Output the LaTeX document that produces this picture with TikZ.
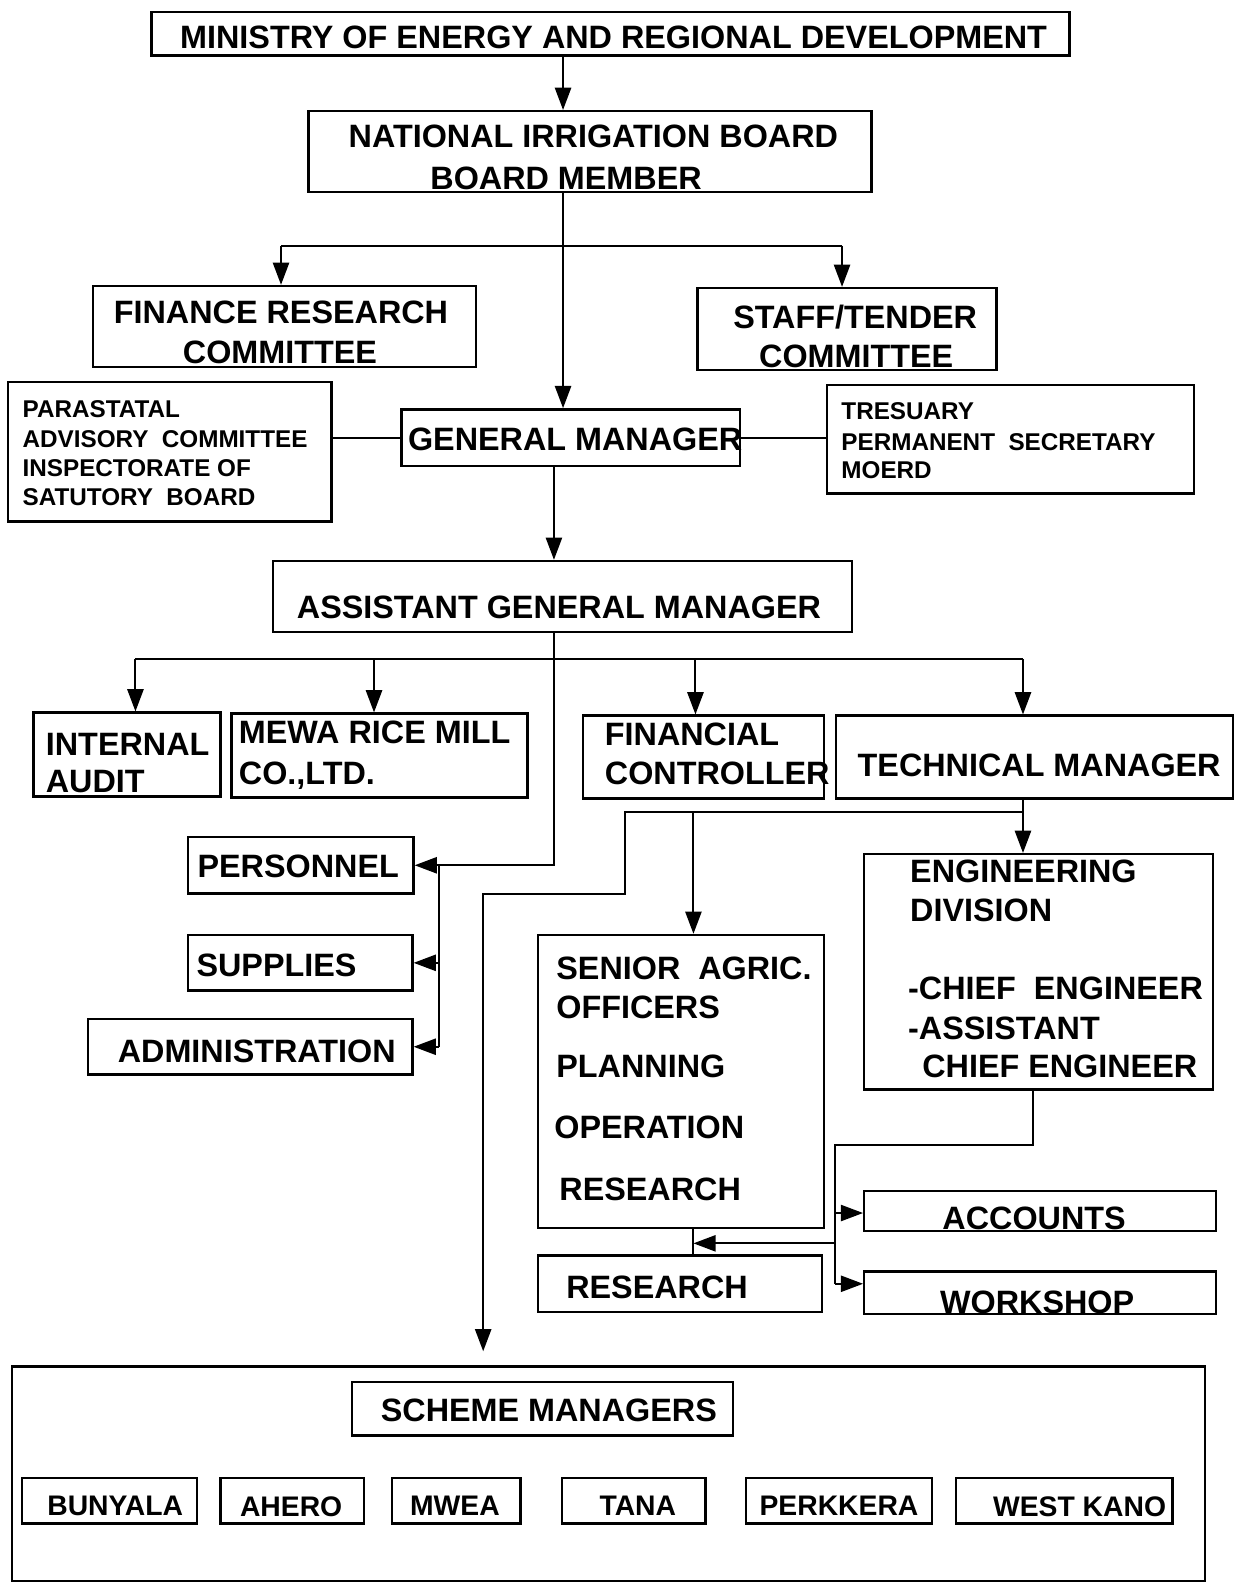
\documentclass[tikz,border=0pt]{standalone}
\usepackage{fontspec}
\setmainfont{Liberation Sans}
\usetikzlibrary{arrows.meta}
\tikzset{
 box/.style={draw, line width=1.2pt, rectangle, inner sep=0pt},
 big/.style={font=\fontsize{16}{19}\selectfont\bfseries, inner sep=0pt, text depth=0pt},
 mid/.style={font=\fontsize{14}{17}\selectfont\bfseries, inner sep=0pt, text depth=0pt},
 small/.style={font=\fontsize{12}{14}\selectfont\bfseries, inner sep=0pt, text depth=0pt},
 ln/.style={line width=1pt},
 arr/.style={line width=1pt, -{Triangle[width=8pt,length=11pt]}},
}
\newcommand\bx[5]{%
 \pgfmathsetmacro\bw{(#4-#2)*0.5}\pgfmathsetmacro\bh{(#5-#3)*0.5}%
 \node[box, minimum width=\bw pt, minimum height=\bh pt] (#1) at ({(#2+#4)/2},{(#3+#5)/2}) {};}
\begin{document}
\begin{tikzpicture}[x=0.5pt,y=-0.5pt]
\useasboundingbox (0,0) rectangle (1227,1568);
% boxes
\bx{min}{150}{12}{1058}{55}
\bx{nib}{305}{110}{862}{190}
\bx{fin}{92}{283}{471}{363}
\bx{stf}{690}{285}{986}{366}
\bx{par}{8}{378}{328}{516}
\bx{gm}{397}{405}{732}{461}
\bx{tre}{818}{381}{1181}{488}
\bx{agm}{270}{555}{843}{625}
\bx{ia}{33}{705}{218}{788}
\bx{mew}{229}{706}{522}{789}
\bx{fc}{577}{708}{815}{790}
\bx{tm}{827}{708}{1220}{790}
\bx{per}{186}{828}{409}{884}
\bx{sup}{186}{925}{408}{980}
\bx{adm}{87}{1008}{408}{1063}
\bx{sen}{532}{925}{815}{1215}
\bx{eng}{855}{845}{1200}{1078}
\bx{res}{532}{1242}{813}{1298}
\bx{acc}{855}{1178}{1203}{1218}
\bx{wk}{855}{1258}{1203}{1300}
\bx{sch}{12}{1352}{1192}{1564}
\bx{sm}{348}{1367}{725}{1420}
\bx{s1}{22}{1462}{195}{1507}
\bx{s2}{218}{1462}{360}{1507}
\bx{s3}{388}{1462}{515}{1507}
\bx{s4}{556}{1462}{698}{1507}
\bx{s5}{738}{1462}{922}{1507}
\bx{s6}{946}{1462}{1160}{1507}
% texts
\node[big] (t1) at (607,37) {MINISTRY OF ENERGY AND REGIONAL DEVELOPMENT};
\node[big] (t2) at (587,135) {NATIONAL IRRIGATION BOARD};
\node[big] (t3) at (560,176) {BOARD MEMBER};
\node[big] (t4) at (278,309) {FINANCE RESEARCH};
\node[big] (t5) at (277,348) {COMMITTEE};
\node[big] (t6) at (846,313) {STAFF/TENDER};
\node[big] (t7) at (847,352) {COMMITTEE};
\node[small, anchor=west] (t8) at (22,405) {PARASTATAL};
\node[small, anchor=west] (t9) at (22,434) {ADVISORY\ \ COMMITTEE};
\node[small, anchor=west] (t10) at (22,463) {INSPECTORATE OF};
\node[small, anchor=west] (t11) at (22,492) {SATUTORY\ \ BOARD};
\node[big] (t12) at (569,434) {GENERAL MANAGER};
\node[small, anchor=west] (t13) at (832,407) {TRESUARY};
\node[small, anchor=west] (t14) at (832,437) {PERMANENT\ \ SECRETARY};
\node[small, anchor=west] (t15) at (832,465) {MOERD};
\node[big] (t16) at (553,601) {ASSISTANT GENERAL MANAGER};
\node[big, anchor=west] (t17) at (45,736) {INTERNAL};
\node[big, anchor=west] (t18) at (45,773) {AUDIT};
\node[big, anchor=west] (t19) at (236,724) {MEWA RICE MILL};
\node[big, anchor=west] (t20) at (236,765) {CO.,LTD.};
\node[big, anchor=west] (t21) at (598,726) {FINANCIAL};
\node[big, anchor=west] (t22) at (598,765) {CONTROLLER};
\node[big] (t23) at (1028,757) {TECHNICAL MANAGER};
\node[big] (t24) at (295,857) {PERSONNEL};
\node[big, anchor=west] (t25) at (194,955) {SUPPLIES};
\node[big] (t26) at (254,1040) {ADMINISTRATION};
\node[big, anchor=west] (t27) at (550,958) {SENIOR\ \ AGRIC.};
\node[big, anchor=west] (t28) at (550,996) {OFFICERS};
\node[big, anchor=west] (t29) at (550,1055) {PLANNING};
\node[big, anchor=west] (t30) at (548,1115) {OPERATION};
\node[big, anchor=west] (t31) at (553,1176) {RESEARCH};
\node[big, anchor=west] (t32) at (900,862) {ENGINEERING};
\node[big, anchor=west] (t33) at (900,900) {DIVISION};
\node[big, anchor=west] (t34) at (898,978) {-CHIEF\ \ ENGINEER};
\node[big, anchor=west] (t35) at (898,1017) {-ASSISTANT};
\node[big, anchor=west] (t36) at (912,1055) {CHIEF ENGINEER};
\node[big] (t37) at (650,1273) {RESEARCH};
\node[big] (t38) at (1023,1205) {ACCOUNTS};
\node[big] (t39) at (1026,1288) {WORKSHOP};
\node[big] (t40) at (543,1395) {SCHEME MANAGERS};
\node[mid] (t41) at (114,1490) {BUNYALA};
\node[mid] (t42) at (288,1490) {AHERO};
\node[mid] (t43) at (450,1490) {MWEA};
\node[mid] (t44) at (631,1490) {TANA};
\node[mid] (t45) at (830,1490) {PERKKERA};
\node[mid] (t46) at (1068,1490) {WEST KANO};
% connector coordinates
\coordinate (xA) at (557,0);
\coordinate (hB) at (0,243);
\coordinate (xFi) at (278,0);
\coordinate (xSt) at (833,0);
\coordinate (xC) at (548,0);
\coordinate (hD) at (0,652);
\coordinate (xIA) at (134,0);
\coordinate (xMW) at (370,0);
\coordinate (xFC) at (688,0);
\coordinate (xTM) at (1012,0);
\coordinate (xE) at (434,0);
\coordinate (hG) at (0,803);
\coordinate (x620) at (618,0);
\coordinate (hH) at (0,884);
\coordinate (x478) at (478,0);
\coordinate (xSA) at (686,0);
\coordinate (xI) at (1022,0);
\coordinate (hJ) at (0,1133);
\coordinate (xK) at (826,0);
\coordinate (hAc) at (0,1200);
\coordinate (hWk) at (0,1270);
\coordinate (hL) at (0,1230);
% connectors
\draw[arr] (min.south -| xA) -- (nib.north -| xA);
\draw[arr] (nib.south -| xA) -- (gm.north -| xA);
\draw[ln] (xFi |- hB) -- (xSt |- hB);
\draw[arr] (xFi |- hB) -- (fin.north -| xFi);
\draw[arr] (xSt |- hB) -- (stf.north -| xSt);
\draw[ln] (gm.west) -- (gm.west -| par.east);
\draw[ln] (gm.east) -- (gm.east -| tre.west);
\draw[arr] (gm.south -| xC) -- (agm.north -| xC);
\draw[ln] (xIA |- hD) -- (xTM |- hD);
\draw[arr] (xIA |- hD) -- (ia.north -| xIA);
\draw[arr] (xMW |- hD) -- (mew.north -| xMW);
\draw[arr] (xFC |- hD) -- (fc.north -| xFC);
\draw[arr] (xTM |- hD) -- (tm.north -| xTM);
\draw[arr] (agm.south -| xC) |- (per.east);
\draw[ln] (xE |- per.east) -- (xE |- adm.east);
\draw[arr] (xE |- sup.east) -- (sup.east);
\draw[arr] (xE |- adm.east) -- (adm.east);
\draw[arr] (tm.south -| xTM) -- (eng.north -| xTM);
\draw[arr, shorten >=7pt] (xTM |- hG) -- (x620 |- hG) -- (x620 |- hH) -- (x478 |- hH) -- (sch.north -| x478);
\draw[arr] (xSA |- hG) -- (sen.north -| xSA);
\draw[ln] (sen.south -| xSA) -- (res.north -| xSA);
\draw[ln] (eng.south -| xI) -- (xI |- hJ) -- (xK |- hJ) -- (xK |- hWk);
\draw[arr] (xK |- hAc) -- (acc.west |- hAc);
\draw[arr] (xK |- hWk) -- (wk.west |- hWk);
\draw[arr] (xK |- hL) -- (xSA |- hL);
\end{tikzpicture}
\end{document}
